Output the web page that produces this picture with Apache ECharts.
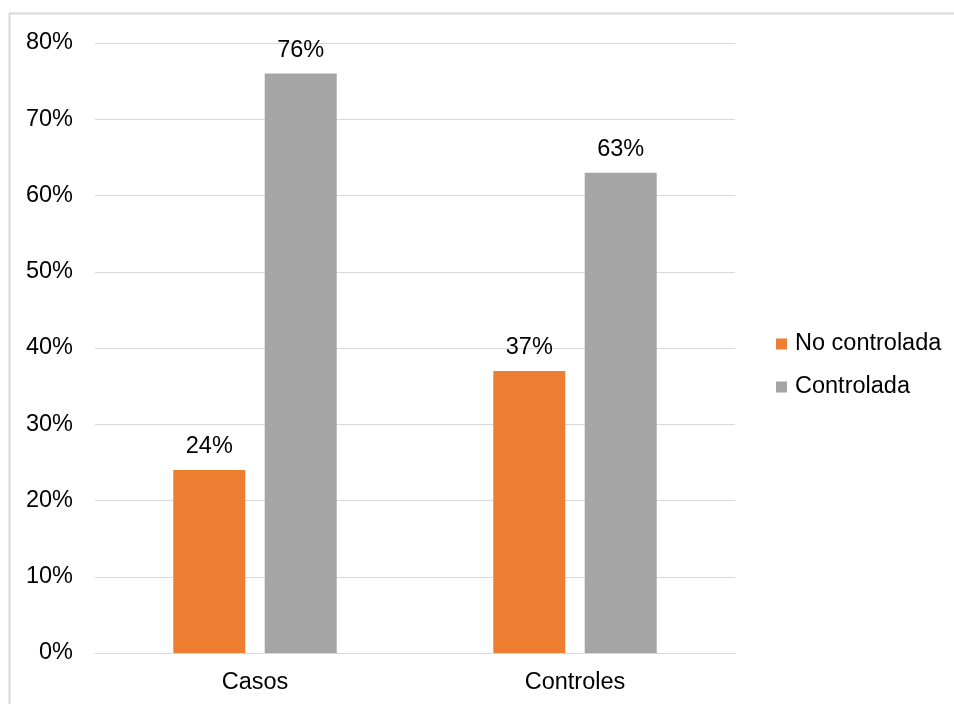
<!DOCTYPE html>
<html><head><meta charset="utf-8">
<script src="https://cdn.jsdelivr.net/npm/echarts@6/dist/echarts.min.js"></script>
<style>html,body{margin:0;padding:0;background:#fff}#c{width:954px;height:704px}</style>
</head><body><div id="c"></div>
<script>
const categories = ['Casos', 'Controles'];
const noControlada = [24, 37];
const controlada = [76, 63];
const yTicks = [0, 10, 20, 30, 40, 50, 60, 70, 80];

const chart = echarts.init(document.getElementById('c'), null, {renderer: 'canvas'});
const font = 'Liberation Sans, Arial, sans-serif';
const fs = 23.5;
const lbl = {show: true, position: 'top', distance: 11, formatter: p => p.value + '%', color: '#000', fontSize: fs, fontFamily: font};
chart.setOption({
  animation: false,
  graphic: [{type: 'rect', shape: {x: 9.5, y: 13.5, width: 960, height: 720}, style: {fill: 'none', stroke: '#d9d9d9', lineWidth: 2}}],
  grid: {left: 95, right: 219, top: 43, bottom: 51, containLabel: false},
  legend: {
    orient: 'vertical', left: 771, top: 327, itemWidth: 11, itemHeight: 11, itemGap: 19,
    icon: 'rect', textStyle: {fontSize: fs, color: '#000', fontFamily: font, padding: [0,0,0,3]},
    data: ['No controlada', 'Controlada']
  },
  xAxis: {
    type: 'category', data: categories,
    axisLine: {show: true, lineStyle: {color: '#d9d9d9', width: 1}},
    axisTick: {show: false},
    axisLabel: {fontSize: fs, color: '#000', fontFamily: font, margin: 18}
  },
  yAxis: {
    type: 'value', min: 0, max: 80, interval: 10,
    axisLine: {show: false}, axisTick: {show: false},
    splitLine: {lineStyle: {color: '#d9d9d9', width: 1}},
    axisLabel: {fontSize: fs, color: '#000', fontFamily: font, margin: 22, padding: [5,0,0,0], formatter: v => yTicks.includes(v) ? v + '%' : ''}
  },
  series: [
    {name: 'No controlada', type: 'bar', data: noControlada, barWidth: 72, barGap: '27%', itemStyle: {color: '#ED7D31'}, label: lbl},
    {name: 'Controlada', type: 'bar', data: controlada, barWidth: 72, itemStyle: {color: '#A5A5A5'}, label: lbl}
  ]
});
</script></body></html>
